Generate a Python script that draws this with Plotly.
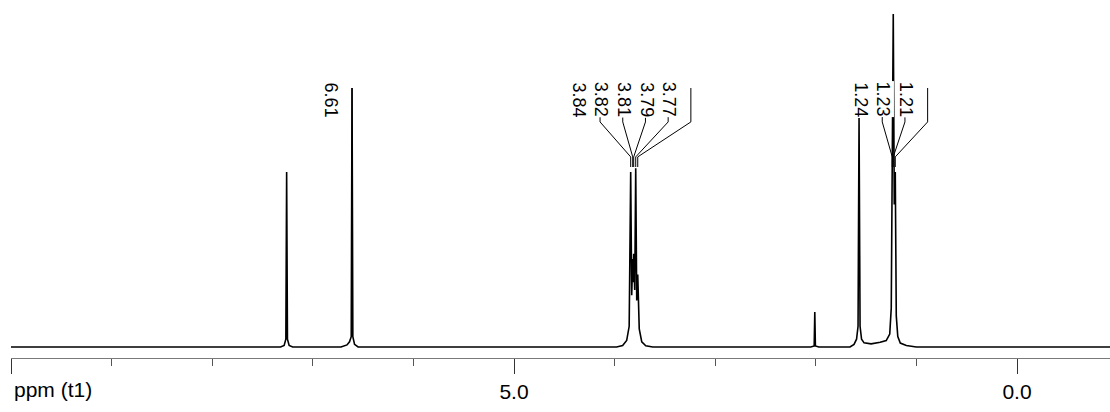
import plotly.graph_objects as go

# 1H NMR trace: chemical shift (ppm) and relative intensity
ppm = [
    10.00, 7.32, 7.285, 7.268, 7.26, 7.252, 7.235, 7.20,
    6.72, 6.66, 6.635, 6.618, 6.61, 6.602, 6.585, 6.55,
    3.98, 3.92, 3.88, 3.855, 3.84, 3.83, 3.82, 3.815, 3.81, 3.80,
    3.79, 3.78, 3.77, 3.755, 3.73, 3.69, 3.62,
    2.05, 2.016, 2.01, 2.004, 1.97,
    1.66, 1.62, 1.595, 1.58, 1.57, 1.56, 1.545, 1.52, 1.45, 1.36,
    1.30, 1.265, 1.25, 1.24, 1.235, 1.23, 1.22, 1.21, 1.20, 1.185,
    1.16, 1.10, 1.00, -0.93,
]
intensity = [
    0.0, 0.0, 0.006, 0.03, 0.676, 0.03, 0.006, 0.0,
    0.0, 0.008, 0.02, 0.04, 1.0, 0.04, 0.01, 0.0,
    0.0, 0.006, 0.025, 0.08, 0.676, 0.20, 0.34, 0.25, 0.36, 0.22,
    0.69, 0.18, 0.28, 0.07, 0.02, 0.005, 0.0,
    0.0, 0.004, 0.135, 0.004, 0.0,
    0.0, 0.01, 0.03, 0.08, 0.884, 0.08, 0.03, 0.016, 0.012, 0.018,
    0.025, 0.05, 0.15, 0.722, 0.60, 1.286, 0.55, 0.676, 0.12, 0.04,
    0.015, 0.006, 0.0, 0.0,
]

# picked peaks and the multiplet each label belongs to
peak_labels = [6.61, 3.84, 3.82, 3.81, 3.79, 3.77, 1.24, 1.23, 1.21]
peak_group = [0, 1, 1, 1, 1, 1, 2, 2, 2]

# axis ticks
tick_vals = [10, 5, 0]
tick_text = ["", "5.0", "0.0"]

# ---- geometry ----
X_RANGE = [10.0, -0.9245]
Y_RANGE = [-0.0425, 1.3398]
FIG_W, FIG_H = 1110, 412
M_L, M_R, M_T, M_B = 11, 0, 0, 54
px_per_ppm = (FIG_W - M_L - M_R) / (X_RANGE[0] - X_RANGE[1])
pitch = 22.7 / px_per_ppm          # spacing between labels inside a multiplet
text_gap = 21.0 / px_per_ppm       # label text sits left of its leader line
group_shift = {0: 0.0, 1: -0.5, 2: -0.5}

# leader line levels (intensity units)
Y_TOP, Y_KNEE, Y_FOOT, Y_END = 1.0, 0.869, 0.734, 0.695
Y_TEXT = 1.027

FONT = "Liberation Sans, Arial, sans-serif"

fig = go.Figure()
fig.add_trace(go.Scatter(
    x=ppm, y=intensity, mode="lines",
    line=dict(color="black", width=1.6),
    hoverinfo="skip", showlegend=False,
))

# leader lines from each label down to its peak
lx, ly = [], []
annotations = []
groups = {}
for i, g in enumerate(peak_group):
    groups.setdefault(g, []).append(i)
for g, idx in groups.items():
    vals = [peak_labels[i] for i in idx]
    n = len(vals)
    centre = sum(vals) / n + group_shift[g] * pitch
    for k, v in enumerate(vals):
        cx = centre + ((n - 1) / 2 - k) * pitch
        lx += [cx, cx, v, v, None]
        ly += [Y_TOP, Y_KNEE, Y_FOOT, Y_END, None]
        annotations.append(dict(
            x=cx + text_gap, y=Y_TEXT, xref="x", yref="y",
            text=f"{v:.2f}", showarrow=False, textangle=90,
            xanchor="center", yanchor="top",
            bgcolor="white", borderpad=0,
            font=dict(family=FONT, size=18, color="black"),
        ))

fig.add_trace(go.Scatter(
    x=lx, y=ly, mode="lines",
    line=dict(color="black", width=1),
    hoverinfo="skip", showlegend=False,
))

annotations.append(dict(
    x=0.001, y=-0.089, xref="paper", yref="paper",
    text="ppm (t1)", showarrow=False, xanchor="left", yanchor="middle",
    font=dict(family=FONT, size=21, color="black"),
))

fig.update_layout(
    width=FIG_W, height=FIG_H,
    margin=dict(l=M_L, r=M_R, t=M_T, b=M_B),
    paper_bgcolor="white", plot_bgcolor="white",
    annotations=annotations,
    xaxis=dict(
        range=X_RANGE, showgrid=False, zeroline=False,
        showline=True, linecolor="#7a7a7a", linewidth=1,
        tickmode="array", tickvals=tick_vals, ticktext=tick_text,
        ticks="outside", ticklen=15, tickwidth=1, tickcolor="#333333",
        tickfont=dict(family=FONT, size=21, color="black"),
        minor=dict(tickmode="linear", tick0=0, dtick=1, ticks="outside",
                   ticklen=7, tickwidth=1, tickcolor="#555555",
                   showgrid=False),
    ),
    yaxis=dict(range=Y_RANGE, visible=False),
)

fig.write_html("out.html")
